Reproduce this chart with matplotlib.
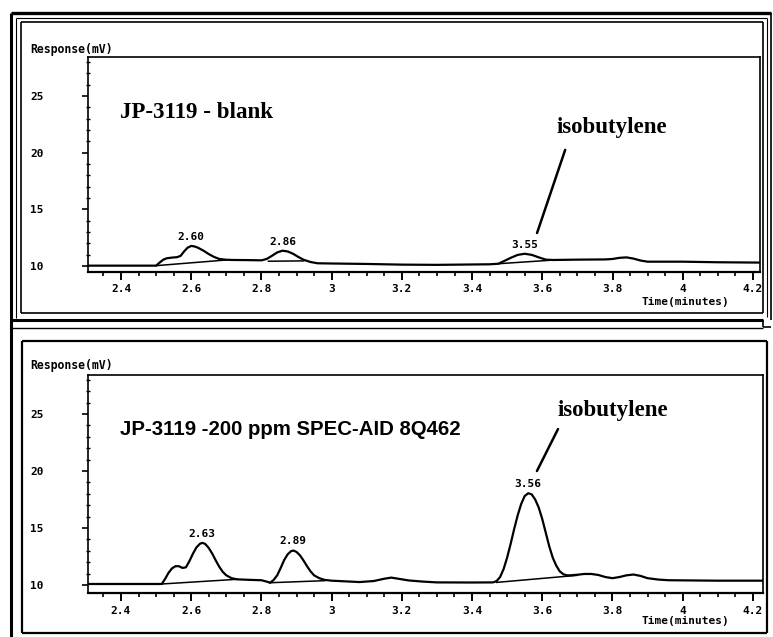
import matplotlib
matplotlib.use("Agg")
import matplotlib.pyplot as plt
from matplotlib.lines import Line2D
from matplotlib.ticker import MultipleLocator

# ---- chromatogram traces (time in minutes, response in mV) ----
blank_t = [2.306, 2.40, 2.50, 2.51, 2.52, 2.53, 2.545, 2.56, 2.57, 2.58,
           2.59, 2.60, 2.61, 2.62, 2.635, 2.65, 2.665, 2.68, 2.70, 2.72,
           2.76, 2.80, 2.815, 2.83, 2.845, 2.86, 2.875, 2.89, 2.905, 2.92,
           2.94, 2.96, 3.00, 3.10, 3.20, 3.30, 3.45, 3.475, 3.49, 3.51,
           3.53, 3.55, 3.57, 3.59, 3.61, 3.63, 3.70, 3.78, 3.80, 3.82,
           3.84, 3.86, 3.88, 3.90, 4.00, 4.10, 4.22]
blank_v = [10.03, 10.03, 10.03, 10.30, 10.55, 10.68, 10.74, 10.78, 10.90, 11.30,
           11.62, 11.77, 11.72, 11.60, 11.35, 11.05, 10.80, 10.62, 10.55, 10.53,
           10.52, 10.50, 10.62, 10.90, 11.20, 11.35, 11.28, 11.08, 10.80, 10.55,
           10.35, 10.24, 10.22, 10.18, 10.12, 10.10, 10.15, 10.20, 10.42, 10.72,
           10.98, 11.08, 10.98, 10.76, 10.56, 10.53, 10.56, 10.58, 10.62, 10.72,
           10.76, 10.65, 10.48, 10.38, 10.38, 10.33, 10.30]

spiked_t = [2.306, 2.40, 2.516, 2.525, 2.535, 2.545, 2.555, 2.565, 2.575, 2.585,
            2.595, 2.605, 2.615, 2.625, 2.632, 2.64, 2.65, 2.66, 2.67, 2.68,
            2.69, 2.70, 2.715, 2.73, 2.76, 2.80, 2.815, 2.825, 2.835, 2.845,
            2.855, 2.865, 2.875, 2.885, 2.892, 2.90, 2.91, 2.92, 2.93, 2.94,
            2.95, 2.965, 2.98, 3.00, 3.04, 3.08, 3.12, 3.15, 3.17, 3.19,
            3.22, 3.26, 3.30, 3.40, 3.46, 3.47, 3.48, 3.49, 3.50, 3.51,
            3.52, 3.53, 3.54, 3.55, 3.56, 3.57, 3.58, 3.59, 3.60, 3.61,
            3.62, 3.63, 3.64, 3.65, 3.66, 3.67, 3.68, 3.70, 3.72, 3.74,
            3.76, 3.78, 3.80, 3.82, 3.84, 3.86, 3.88, 3.90, 3.93, 3.96,
            4.10, 4.229]
spiked_v = [10.09, 10.09, 10.09, 10.50, 11.05, 11.45, 11.65, 11.65, 11.50, 11.55,
            12.10, 12.75, 13.30, 13.62, 13.70, 13.60, 13.25, 12.75, 12.15, 11.60,
            11.15, 10.85, 10.60, 10.50, 10.46, 10.42, 10.30, 10.20, 10.45, 10.85,
            11.50, 12.20, 12.70, 12.98, 13.02, 12.90, 12.60, 12.15, 11.65, 11.20,
            10.85, 10.60, 10.45, 10.38, 10.32, 10.26, 10.35, 10.55, 10.65, 10.55,
            10.40, 10.30, 10.23, 10.22, 10.23, 10.35, 10.70, 11.40, 12.40, 13.60,
            14.90, 16.10, 17.10, 17.80, 18.05, 17.95, 17.50, 16.80, 15.80, 14.60,
            13.40, 12.40, 11.70, 11.20, 10.95, 10.85, 10.85, 10.90, 10.97, 10.97,
            10.88, 10.70, 10.60, 10.70, 10.85, 10.92, 10.80, 10.60, 10.48, 10.42,
            10.38, 10.38]

# integration baselines drawn under the labelled peaks: (t0, v0, t1, v1)
blank_bases = [(2.50, 10.03, 2.70, 10.53), (2.82, 10.42, 2.92, 10.45),
               (3.475, 10.20, 3.62, 10.50)]
spiked_bases = [(2.516, 10.09, 2.73, 10.50), (2.824, 10.20, 2.98, 10.38),
                (3.47, 10.23, 3.70, 10.85)]

# retention-time labels (time, apex response)
blank_peaks = [(2.60, 11.77, "2.60"), (2.86, 11.35, "2.86"), (3.55, 11.08, "3.55")]
spiked_peaks = [(2.63, 13.70, "2.63"), (2.89, 13.02, "2.89"), (3.56, 18.05, "3.56")]

y_ticks = [10, 15, 20, 25]
x_ticks = [2.4, 2.6, 2.8, 3.0, 3.2, 3.4, 3.6, 3.8, 4.0, 4.2]
x_tick_labels = ["2.4", "2.6", "2.8", "3", "3.2", "3.4", "3.6", "3.8", "4", "4.2"]

W, H = 773, 637
fig = plt.figure(figsize=(W / 100, H / 100), dpi=100)
fig.patch.set_facecolor("white")

MONO = dict(family="DejaVu Sans Mono", fontweight="bold", fontsize=8)


def px_axes(left, top, right, bottom):
    return fig.add_axes([left / W, 1 - bottom / H, (right - left) / W, (bottom - top) / H])


def fig_line(x0, y0, x1, y1, lw):
    fig.add_artist(Line2D([x0 / W, x1 / W], [1 - y0 / H, 1 - y1 / H],
                          transform=fig.transFigure, color="black", lw=lw,
                          solid_capstyle="butt"))


def fig_rect(l, t, r, b, lw):
    fig_line(l, t, r, t, lw)
    fig_line(r, t, r, b, lw)
    fig_line(r, b, l, b, lw)
    fig_line(l, b, l, t, lw)


# window frames
fig_line(11, 13, 11, 637, 2.2)
fig_line(11, 13, 771, 13, 2.4)
fig_line(771, 13, 771, 320, 1.2)
fig_line(16, 18, 767, 18, 0.8)
fig_line(16, 18, 16, 318, 0.8)
fig_line(767, 18, 767, 317, 0.8)
fig_rect(21, 22, 763, 313, 1.2)
fig_line(11, 320, 763, 320, 2.2)
fig_line(763, 320, 763, 327, 1.2)
fig_line(763, 327, 771, 327, 1.2)
fig_line(11, 328, 763, 328, 1.0)
fig_rect(22, 341, 767, 633, 1.6)


def style_axes(ax, ylim, xlim):
    ax.set_xlim(*xlim)
    ax.set_ylim(*ylim)
    for s in ax.spines.values():
        s.set_linewidth(1.2)
    ax.spines["bottom"].set_linewidth(1.6)
    ax.set_xticks(x_ticks)
    ax.set_xticklabels(x_tick_labels, **MONO)
    ax.xaxis.set_minor_locator(MultipleLocator(0.05))
    ax.set_yticks(y_ticks)
    ax.set_yticklabels([str(v) for v in y_ticks], **MONO)
    ax.yaxis.set_minor_locator(MultipleLocator(1))
    ax.tick_params(axis="x", which="major", direction="out", length=6, width=1.4, pad=3)
    ax.tick_params(axis="x", which="minor", direction="out", length=3, width=1.2)
    ax.tick_params(axis="y", which="major", direction="out", length=4, width=1.2, pad=28)
    ax.tick_params(axis="y", which="minor", direction="inout", length=3, width=1.0)


def draw_panel(ax, t, v, bases, peaks):
    ax.plot(t, v, color="black", lw=1.6, solid_joinstyle="round")
    for t0, v0, t1, v1 in bases:
        ax.plot([t0, t1], [v0, v1], color="black", lw=1.1)
    for pt, pv, lab in peaks:
        ax.annotate(lab, xy=(pt, pv), xytext=(0, 3), textcoords="offset points",
                    ha="center", va="bottom", **MONO)


# ---- upper chromatogram: blank ----
ax1 = px_axes(88, 57, 760, 272)
style_axes(ax1, (9.47, 28.44), (2.306, 4.22))
draw_panel(ax1, blank_t, blank_v, blank_bases, blank_peaks)
ax1.text(2.397, 23.5, "JP-3119 - blank", family="Liberation Serif",
         fontweight="bold", fontsize=16.5, ha="left", va="center")
ax1.text(3.799, 22.2, "isobutylene", family="Liberation Serif",
         fontweight="bold", fontsize=16.5, ha="center", va="center")
ax1.annotate("", xy=(3.585, 12.91), xytext=(3.665, 20.24),
             arrowprops=dict(arrowstyle="-", lw=1.8, color="black",
                             shrinkA=0, shrinkB=0))

# ---- lower chromatogram: spiked sample ----
ax2 = px_axes(88, 375, 763, 593)
style_axes(ax2, (9.30, 28.42), (2.306, 4.229))
draw_panel(ax2, spiked_t, spiked_v, spiked_bases, spiked_peaks)
ax2.text(2.397, 23.6, "JP-3119 -200 ppm SPEC-AID 8Q462", family="Liberation Sans",
         fontweight="bold", fontsize=14.7, ha="left", va="center")
ax2.text(3.80, 25.35, "isobutylene", family="Liberation Serif",
         fontweight="bold", fontsize=16.5, ha="center", va="center")
ax2.annotate("", xy=(3.585, 20.0), xytext=(3.645, 23.68),
             arrowprops=dict(arrowstyle="-", lw=1.8, color="black",
                             shrinkA=0, shrinkB=0))

# axis captions
for y in (49, 365):
    fig.text(30 / W, 1 - y / H, "Response(mV)", ha="left", va="center",
             family="DejaVu Sans Mono", fontweight="bold", fontsize=8.3)
for y in (302, 621):
    fig.text(685 / W, 1 - y / H, "Time(minutes)", ha="center", va="center", **MONO)

fig.savefig("out.png", dpi=100, facecolor="white")
